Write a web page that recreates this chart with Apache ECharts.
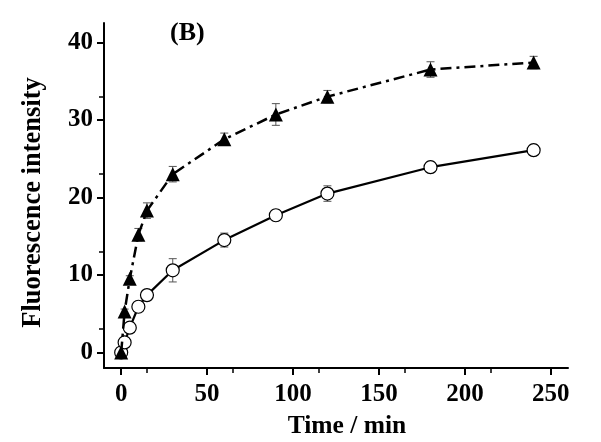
<!DOCTYPE html>
<html><head><meta charset="utf-8">
<script src="https://cdn.jsdelivr.net/npm/echarts@6/dist/echarts.min.js"></script>
<style>html,body{margin:0;padding:0;background:#fff}#c{width:601px;height:442px}</style>
</head><body><div id="c"></div>
<script>
var times = [0, 2, 5, 10, 15, 30, 60, 90, 120, 180, 240];
var triValues = [0, 5.3, 9.5, 15.2, 18.3, 23.0, 27.5, 30.7, 33.0, 36.5, 37.4];
var triErr = [0.3, 0.3, 0.4, 0.8, 1.0, 1.0, 0.8, 1.4, 0.8, 1.0, 0.8];
var circValues = [0, 1.3, 3.2, 5.9, 7.4, 10.6, 14.5, 17.7, 20.5, 23.9, 26.1];
var circErr = [0.3, 0.3, 0.3, 0.4, 0.4, 1.5, 0.9, 0.7, 1.0, 0.7, 0.7];
var xTicks = [0, 50, 100, 150, 200, 250];
var yTicks = [0, 10, 20, 30, 40];

function pairs(v){ return times.map(function(t,i){return [t, v[i]];}); }
function errData(v,e){ return times.map(function(t,i){return [t, v[i]-e[i], v[i]+e[i]];}); }
function errRender(params, api){
  var x = api.value(0);
  var lo = api.coord([x, api.value(1)]);
  var hi = api.coord([x, api.value(2)]);
  var w = 4;
  var st = {stroke:'#555', lineWidth:1};
  return {type:'group', children:[
    {type:'line', shape:{x1:lo[0], y1:lo[1], x2:hi[0], y2:hi[1]}, style:st},
    {type:'line', shape:{x1:lo[0]-w, y1:lo[1], x2:lo[0]+w, y2:lo[1]}, style:st},
    {type:'line', shape:{x1:hi[0]-w, y1:hi[1], x2:hi[0]+w, y2:hi[1]}, style:st}
  ]};
}
var font = '"Liberation Serif", "Times New Roman", serif';
var chart = echarts.init(document.getElementById('c'), null, {renderer:'canvas'});
chart.setOption({
  animation:false,
  backgroundColor:'#fff',
  grid:{left:104, right:33, top:23, bottom:74, containLabel:false, outerBoundsMode:'none'},
  title:{text:'(B)', left:165, top:15, textStyle:{fontFamily:font, fontWeight:'bold', fontSize:26, color:'#000'}},
  xAxis:{type:'value', min:-10, max:260, interval:50,
    name:'Time / min', nameLocation:'middle', nameGap:45,
    nameTextStyle:{fontFamily:font, fontWeight:'bold', fontSize:25.5, color:'#000', padding:[0,0,0,22]},
    axisLine:{onZero:false, lineStyle:{color:'#000', width:2}},
    axisTick:{show:true, length:7, lineStyle:{width:2, color:'#000'}, customValues:xTicks},
    minorTick:{show:true, splitNumber:2, length:5, lineStyle:{color:'#000', width:1.5}},
    axisLabel:{fontFamily:font, fontWeight:'bold', fontSize:25, color:'#000', margin:14, customValues:xTicks},
    splitLine:{show:false}},
  yAxis:{type:'value', min:-2, max:42.5, interval:10,
    name:'Fluorescence intensity', nameLocation:'middle', nameGap:57,
    nameTextStyle:{fontFamily:font, fontWeight:'bold', fontSize:26.5, color:'#000', padding:[0,14,0,0]},
    axisLine:{onZero:false, lineStyle:{color:'#000', width:2}},
    axisTick:{show:true, length:7, lineStyle:{width:2, color:'#000'}, customValues:yTicks},
    minorTick:{show:true, splitNumber:2, length:5, lineStyle:{color:'#000', width:1.5}},
    axisLabel:{fontFamily:font, fontWeight:'bold', fontSize:25, color:'#000', margin:11, customValues:yTicks},
    splitLine:{show:false}},
  series:[
    {type:'custom', renderItem:errRender, data:errData(circValues, circErr), z:1, encode:{x:0, y:[1,2]}},
    {type:'custom', renderItem:errRender, data:errData(triValues, triErr), z:1, encode:{x:0, y:[1,2]}},
    {type:'line', data:pairs(circValues), symbol:'circle', symbolSize:13, z:3,
      lineStyle:{color:'#000', width:2.2},
      itemStyle:{color:'#fff', borderColor:'#000', borderWidth:1.2}},
    {type:'line', data:pairs(triValues), symbol:'triangle', symbolSize:14, z:4,
      lineStyle:{color:'#000', width:2.5, type:[11,5,3,5]},
      itemStyle:{color:'#000', borderColor:'#000', borderWidth:0}}
  ]
});
</script></body></html>
